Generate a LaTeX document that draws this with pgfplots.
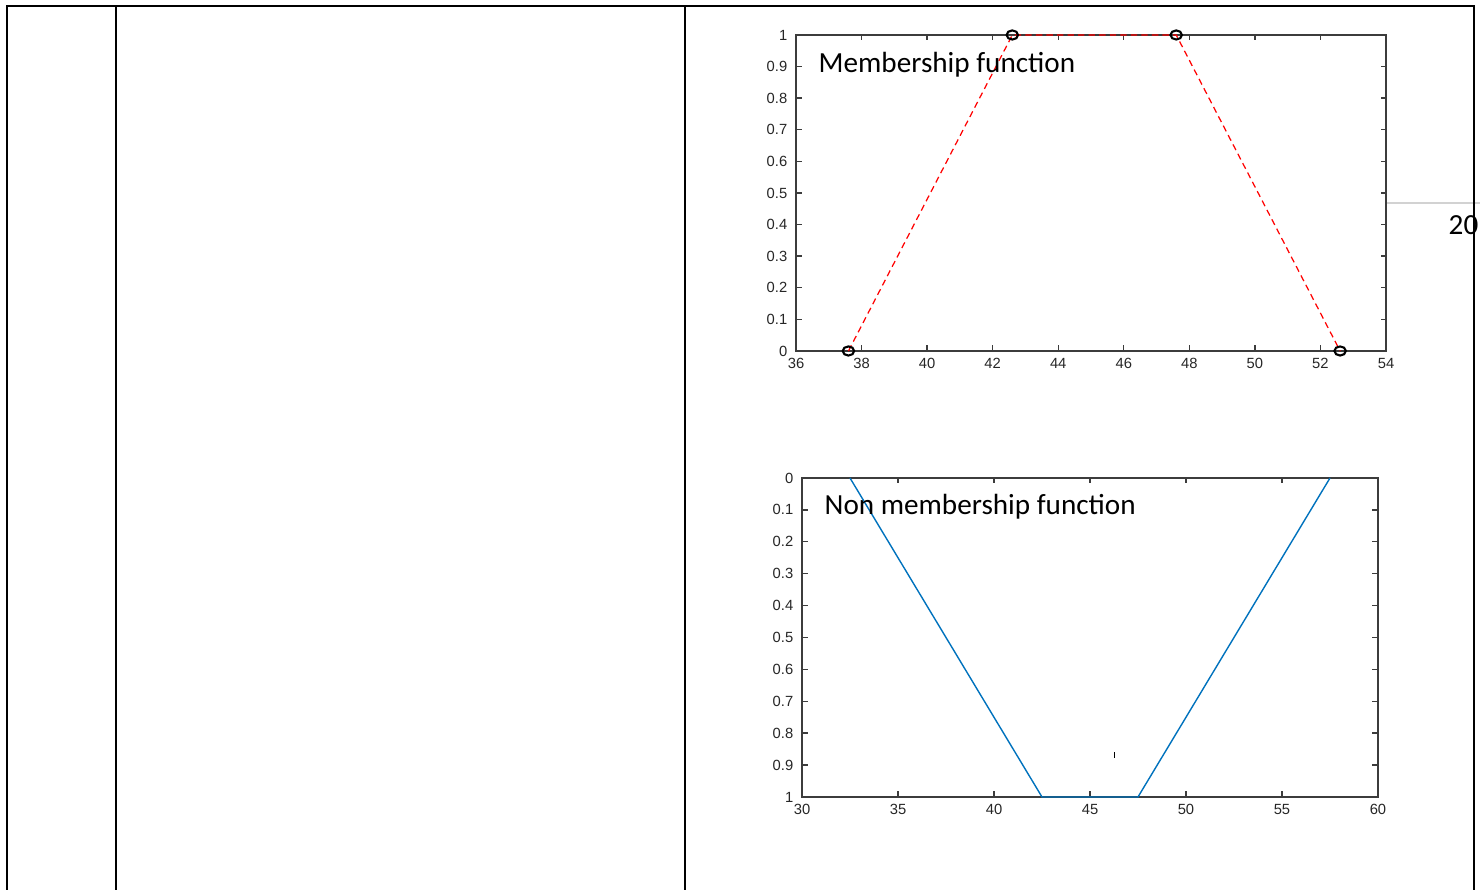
\documentclass[border=0pt]{standalone}
\usepackage{fontspec}
\setmainfont{Liberation Sans}
\newfontfamily\calfont{Carlito}
\usepackage{pgfplots}
\pgfplotsset{compat=1.18}

\definecolor{axgray}{RGB}{60,60,60}
\definecolor{ticktext}{RGB}{38,38,38}
\definecolor{mblue}{rgb}{0,0.447,0.741}
\definecolor{rulegray}{RGB}{210,210,210}

\pgfplotsset{
  mlab/.style={
    scale only axis,
    axis line style={draw=axgray, line width=0.4pt},
    tick style={draw=axgray, line width=0.4pt},
    tick align=inside,
    major tick length=0.55mm,
    tick label style={font=\fontsize{4.2}{4.8}\selectfont, text=ticktext},
    xticklabel style={inner sep=0.5pt, yshift=-1.4pt},
    yticklabel style={inner sep=0.5pt, xshift=-1.8pt},
    /pgf/number format/assume math mode=true,
    clip=false,
  }
}

\begin{document}
\begin{tikzpicture}[x=1cm,y=1cm]
\useasboundingbox (0,0) rectangle (14.8,8.9);

% table rules
\draw[black, line width=0.8pt] (0.07,0) -- (0.07,8.84) -- (14.74,8.84) -- (14.74,0);
\draw[black, line width=0.8pt] (1.16,0) -- (1.16,8.84);
\draw[black, line width=0.8pt] (6.85,0) -- (6.85,8.84);
\draw[rulegray, line width=0.5pt] (13.87,6.87) -- (14.8,6.87);
\node[anchor=base west, inner sep=0pt, font=\calfont\fontsize{8.3}{10}\selectfont] at (14.48,6.555) {20};
\draw[black, line width=0.8pt] (14.74,6.2) -- (14.74,7.2);

% membership function
\begin{axis}[mlab, at={(7.96cm,5.39cm)}, anchor=south west,
  width=5.90cm, height=3.16cm,
  xmin=36, xmax=54, ymin=0, ymax=1,
  xtick={36,38,40,42,44,46,48,50,52,54},
  ytick={0,0.1,0.2,0.3,0.4,0.5,0.6,0.7,0.8,0.9,1},
  yticklabels={0,0.1,0.2,0.3,0.4,0.5,0.6,0.7,0.8,0.9,1},
  xticklabels={36,38,40,42,44,46,48,50,52,54},
]
\addplot[red, line width=0.35pt, dash pattern=on 1.8pt off 1.2pt,
  mark=o, mark size=1.3pt,
  mark options={solid, black, line width=0.6pt, xscale=1.25}]
  coordinates {(37.6,0) (42.6,1) (47.6,1) (52.6,0)};
\end{axis}
\node[anchor=base west, inner sep=0pt, font=\calfont\fontsize{8.3}{10}\selectfont] at (8.18,8.175) {Membership function};

% non-membership function
\begin{axis}[mlab, at={(8.02cm,0.93cm)}, anchor=south west,
  width=5.76cm, height=3.19cm,
  xmin=30, xmax=60, ymin=0, ymax=1, y dir=reverse,
  xtick={30,35,40,45,50,55,60},
  xticklabels={30,35,40,45,50,55,60},
  ytick={0,0.1,0.2,0.3,0.4,0.5,0.6,0.7,0.8,0.9,1},
  yticklabels={0,0.1,0.2,0.3,0.4,0.5,0.6,0.7,0.8,0.9,1},
]
\addplot[mblue, line width=0.4pt] coordinates {(32.5,0) (42.5,1) (47.5,1) (57.5,0)};
\addplot[black, only marks, mark=|, mark size=0.8pt, mark options={line width=0.3pt}] coordinates {(46.3,0.868)};
\end{axis}
\node[anchor=base west, inner sep=0pt, font=\calfont\fontsize{8.3}{10}\selectfont] at (8.24,3.75) {Non membership function};
\end{tikzpicture}
\end{document}
